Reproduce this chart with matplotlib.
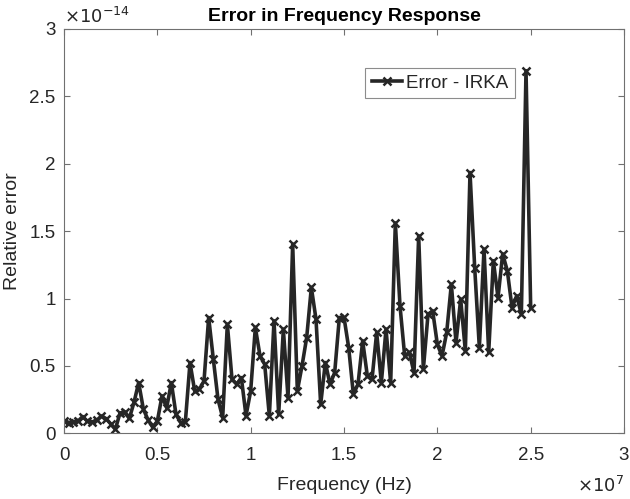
import matplotlib
matplotlib.use("Agg")
import matplotlib.pyplot as plt
from matplotlib.ticker import FuncFormatter

# frequency grid in MHz (converted to Hz below)
freq_mhz = [0, 0.25, 0.5, 0.75, 1, 1.25, 1.5, 1.75, 2, 2.25,
            2.5, 2.75, 3, 3.25, 3.5, 3.75, 4, 4.25, 4.5, 4.75,
            5, 5.25, 5.5, 5.75, 6, 6.25, 6.5, 6.75, 7, 7.25,
            7.5, 7.75, 8, 8.25, 8.5, 8.75, 9, 9.25, 9.5, 9.75,
            10, 10.25, 10.5, 10.75, 11, 11.25, 11.5, 11.75, 12, 12.25,
            12.5, 12.75, 13, 13.25, 13.5, 13.75, 14, 14.25, 14.5, 14.75,
            15, 15.25, 15.5, 15.75, 16, 16.25, 16.5, 16.75, 17, 17.25,
            17.5, 17.75, 18, 18.25, 18.5, 18.75, 19, 19.25, 19.5, 19.75,
            20, 20.25, 20.5, 20.75, 21, 21.25, 21.5, 21.75, 22, 22.25,
            22.5, 22.75, 23, 23.25, 23.5, 23.75, 24, 24.25, 24.5, 24.75,
            25]

# relative error, units of 1e-14
err_e14 = [0.09, 0.08, 0.084, 0.09, 0.124, 0.09, 0.084, 0.096, 0.128, 0.109,
           0.07, 0.03, 0.15, 0.16, 0.11, 0.23, 0.376, 0.18, 0.10, 0.045,
           0.09, 0.277, 0.19, 0.376, 0.14, 0.079, 0.084, 0.525, 0.314, 0.327,
           0.388, 0.859, 0.549, 0.252, 0.116, 0.809, 0.40, 0.364, 0.413, 0.13,
           0.314, 0.785, 0.574, 0.512, 0.129, 0.834, 0.141, 0.772, 0.265, 1.403,
           0.314, 0.50, 0.71, 1.082, 0.846, 0.215, 0.525, 0.364, 0.45, 0.859,
           0.86, 0.636, 0.29, 0.364, 0.685, 0.425, 0.40, 0.748, 0.376, 0.772,
           0.376, 1.56, 0.945, 0.574, 0.60, 0.45, 1.465, 0.475, 0.883, 0.908,
           0.66, 0.574, 0.748, 1.106, 0.673, 0.995, 0.611, 1.935, 1.23, 0.636,
           1.366, 0.60, 1.28, 1.007, 1.33, 1.205, 0.933, 1.02, 0.883, 2.69,
           0.933]

freq = [f * 1e6 for f in freq_mhz]
err = [e * 1e-14 for e in err_e14]

plt.rcParams['font.family'] = ['Liberation Sans', 'DejaVu Sans']
txt = '#262626'
axc = '#707070'

fig = plt.figure(figsize=(6.30, 4.99), dpi=100)
ax = fig.add_axes([0.1016, 0.1317, 0.8889, 0.8102])

ax.plot(freq, err, color='#262626', lw=2.6, marker='x', ms=5.5, mew=1.8,
        label='Error - IRKA')

ax.set_xlim(0, 3e7)
ax.set_ylim(0, 3e-14)
ax.set_xticks([i * 0.5e7 for i in range(7)])
ax.set_yticks([i * 0.5e-14 for i in range(7)])
ax.xaxis.set_major_formatter(FuncFormatter(lambda v, p: '%g' % round(v / 1e7, 2)))
ax.yaxis.set_major_formatter(FuncFormatter(lambda v, p: '%g' % round(v / 1e-14, 2)))
ax.tick_params(direction='in', top=True, right=True, length=4, width=0.8,
               colors=axc, labelcolor=txt, labelsize=13.5)
ax.tick_params(axis='x', pad=10)
ax.tick_params(axis='y', pad=6)
for s in ax.spines.values():
    s.set_color(axc)
    s.set_linewidth(0.8)

ax.set_xlabel('Frequency (Hz)', fontsize=14, color=txt, labelpad=9)
ax.set_ylabel('Relative error', fontsize=14, color=txt, labelpad=6)
ax.set_title('Error in Frequency Response', fontsize=14, fontweight='bold',
             color='black', pad=6)

ax.text(0.0, 1.005, r'$\times10^{-14}$', transform=ax.transAxes, fontsize=13,
        color=txt, ha='left', va='bottom')
ax.text(1.0, -0.105, r'$\times10^{7}$', transform=ax.transAxes, fontsize=13,
        color=txt, ha='right', va='top')

leg = ax.legend(loc='upper left', bbox_to_anchor=(0.5375, 0.9035), fontsize=13.5,
                frameon=True, fancybox=False, borderpad=0.35, handlelength=1.6,
                handletextpad=0.25, borderaxespad=0)
leg.get_frame().set_edgecolor(axc)
leg.get_frame().set_linewidth(0.8)
for t in leg.get_texts():
    t.set_color(txt)

fig.savefig('out.png', dpi=100)
